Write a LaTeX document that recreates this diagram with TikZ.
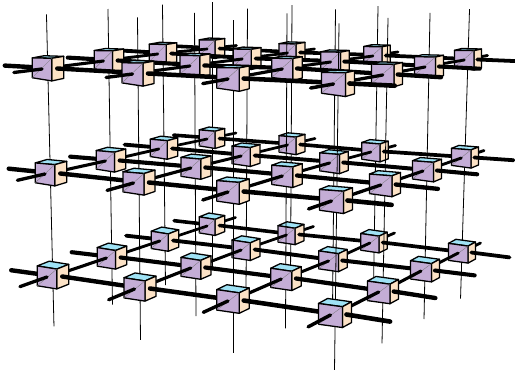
\documentclass[tikz,border=0pt]{standalone}
\usepackage{tikz}
\usetikzlibrary{calc}
\definecolor{frontcol}{HTML}{C4ADD6}
\definecolor{sidecol}{HTML}{FCE2C6}
\definecolor{lidcol}{HTML}{9FE2F5}
\tikzset{
  cubeface/.style={draw=black,line width=1.3pt,line join=round},
  seam/.style={draw=black!55,line width=.3pt},
  rodx/.style={draw=black,line cap=round,line width=.14*\cubeT pt},
  rody/.style={draw=black,line cap=round,line width=.105*\cubeT pt},
  pillar/.style={draw=black,line width=.8pt}
}
% size of a cube, from its place in the grid
\newcommand\cubemeasure[2]{%
  \pgfmathsetmacro\cubeT{25.5+2*(3-#2)+.5*#1}%
  \pgfmathsetmacro\cubeR{.38-.035*#1}%
  \pgfmathsetmacro\xl{-.5*\cubeT}%
  \pgfmathsetmacro\xm{\xl+(1-\cubeR)*\cubeT}%
  \pgfmathsetmacro\xr{.5*\cubeT}%
  \pgfmathsetmacro\xb{\xl+\cubeR*\cubeT}%
}
% #1 name, #2 layer (0 is the top one)
\newcommand\drawcube[2]{%
  \begin{scope}[shift={(#1)}]
    \pgfmathsetmacro\yfmt{-(.31-.045*#2)*\cubeT}
    \pgfmathsetmacro\yback{-(.39+.04*#2)*\cubeT}
    \pgfmathsetmacro\yrb{(.33-.035*#2)*\cubeT}
    \pgfmathsetmacro\yflt{-.32*\cubeT}
    \pgfmathsetmacro\yflb{.31*\cubeT}
    \pgfmathsetmacro\yfmb{.41*\cubeT}
    \pgfmathsetmacro\yrt{-.37*\cubeT}
    \draw[cubeface,fill=lidcol] (\xl,\yflt) -- (\xm,\yfmt) -- (\xr,\yrt) -- (\xb,\yback) -- cycle;
    \draw[cubeface,fill=sidecol] (\xm,\yfmt) -- (\xr,\yrt) -- (\xr,\yrb) -- (\xm,\yfmb) -- cycle;
    \draw[cubeface,fill=frontcol] (\xl,\yflt) -- (\xm,\yfmt) -- (\xm,\yfmb) -- (\xl,\yflb) -- cycle;
    \draw[seam] (\xl,\yflb) -- (\xm,\yfmt);
  \end{scope}%
}
\begin{document}
\begin{tikzpicture}[x=1pt,y=-1pt]
  \useasboundingbox (0,0) rectangle (515,370);
  % places of the cubes: layer/row/four centres
  \foreach \l/\j/\xa/\ya/\xc/\yc/\xe/\ye/\xg/\yg in {
    0/3/212/48/292/52/377/55/468/59,
    0/2/163/53/247/58/335/61/429/66,
    0/1/109/60/195/65/287/68/387/74,
    0/0/48/68/138/73/233/78/338/83,
    1/3/212/138/292/144/375/151/465/157,
    1/2/164/148/246/155/334/162/427/170,
    1/1/111/160/196/167/287/175/385/184,
    1/0/51/173/139/182/233/191/336/200,
    2/3/212/225/291/234/374/242/462/252,
    2/2/165/240/246/249/333/260/425/270,
    2/1/112/257/196/267/286/278/383/291,
    2/0/53/276/140/288/233/300/335/314}{
    \foreach \i/\cx/\cy in {0/\xa/\ya,1/\xc/\yc,2/\xe/\ye,3/\xg/\yg}{
      \cubemeasure{\i}{\j}
      \coordinate (c\l\j\i) at (\cx,\cy);
      \coordinate (c\l\j\i f) at ($(c\l\j\i)+({.5*(\xl+\xm)},1)$);
      \coordinate (c\l\j\i r) at ($(c\l\j\i)+({.5*(\xm+\xr)-.5},.5)$);
    }
  }
  % back to front
  \foreach \j in {3,2,1,0}{
    \foreach \i in {0,1,2,3}{
      \cubemeasure{\i}{\j}
      \pgfmathtruncatemacro\inext{\i+1}
      \pgfmathtruncatemacro\jnext{\j-1}
      \coordinate (head\j\i) at ($(c0\j\i)!-.51!(c1\j\i)$);
      \coordinate (foot\j\i) at ($(c2\j\i)!-.49!(c1\j\i)$);
      \draw[pillar] (head\j\i) -- (foot\j\i);
      \foreach \l in {0,1,2}{
        \ifnum\i=0
          \coordinate (west\l\j) at ($(c\l\j0)!-.48!(c\l\j1)$);
          \draw[rodx] (west\l\j) -- (c\l\j0);
        \fi
        \ifnum\j=3
          \coordinate (back\l\i) at ($(c\l3\i)!-.5!(c\l2\i)$);
          \draw[rody] (back\l\i) -- (c\l3\i);
        \fi
        \drawcube{c\l\j\i}{\l}
        \ifnum\j=0
          \coordinate (fore\l\i) at ($(c\l0\i)!-.56!(c\l1\i)$);
          \draw[rody] (c\l0\i f) -- (fore\l\i);
        \else
          \draw[rody] (c\l\j\i f) -- (c\l\jnext\i);
        \fi
        \ifnum\i=3
          \coordinate (east\l\j) at ($(c\l\j3)!-.54!(c\l\j2)$);
          \draw[rodx] (c\l\j3r) -- (east\l\j);
        \else
          \draw[rodx] (c\l\j\i r) -- (c\l\j\inext);
        \fi
      }
    }
  }
\end{tikzpicture}
\end{document}
